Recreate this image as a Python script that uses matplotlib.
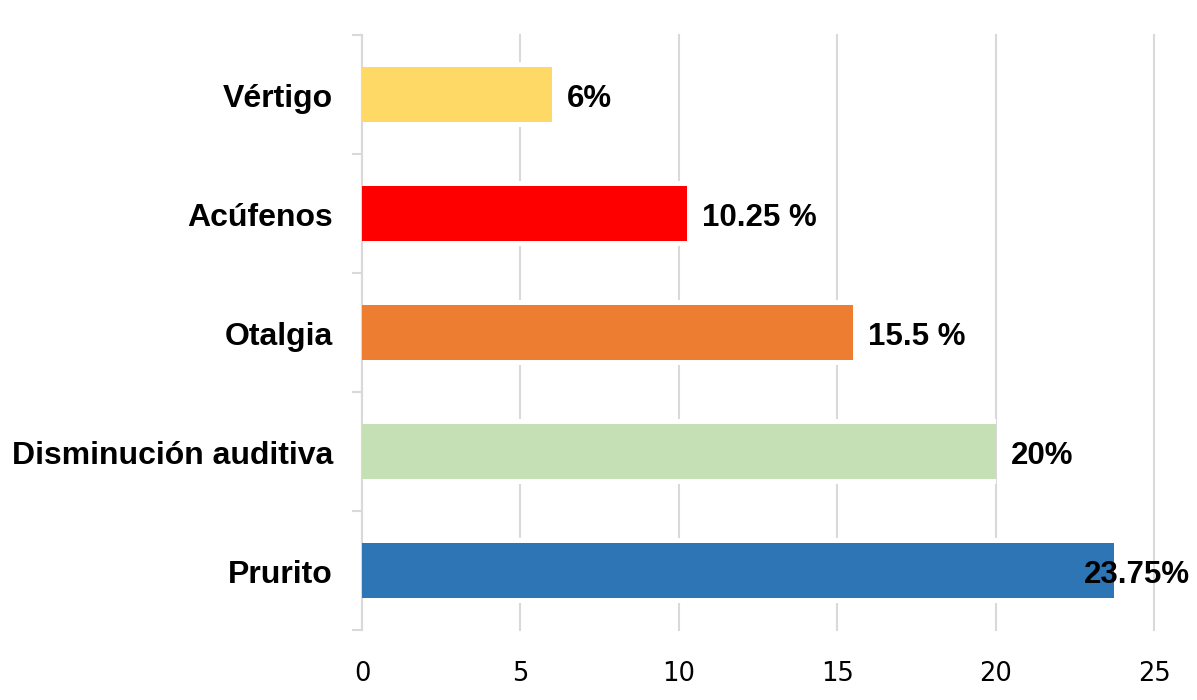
import matplotlib.pyplot as plt
import numpy as np

# Datos del gráfico
categorias = ["Prurito", "Disminución auditiva", "Otalgia", "Acúfenos", "Vértigo"]
valores = [23.75, 20, 15.5, 10.25, 6]
etiquetas = ["23.75%", "20%", "15.5 %", "10.25 %", "6%"]
colores = ["#2E75B6", "#C5E0B4", "#ED7D31", "#FF0000", "#FFD966"]
ticks_x = [0, 5, 10, 15, 20, 25]

fig = plt.figure(figsize=(11.97, 7.0), dpi=100)
ax = fig.add_axes([362 / 1197, 1 - 630 / 700, (1154 - 362) / 1197, 595 / 700])

y = np.arange(len(categorias))
alto = 0.46

# hueco blanco alrededor de las barras (corta las líneas de cuadrícula)
ax.barh(y, valores, height=alto + 0.09, color="white", zorder=2)
ax.barh(y, valores, height=alto, color=colores, zorder=3)

for yi, v, txt in zip(y, valores, etiquetas):
    dx = -22 if v > 23 else 11
    ax.annotate(txt, (v, yi), xytext=(dx, -3), textcoords="offset points",
                va="center", ha="left", fontsize=22.5, fontweight="bold",
                family="Liberation Sans", color="black", zorder=5)

# nombres de categorías
for yi, cat in zip(y, categorias):
    ax.annotate(cat, (0, yi), xytext=(-21, -3), textcoords="offset points",
                xycoords=("axes fraction", "data"),
                va="center", ha="right", fontsize=23, fontweight="bold",
                family="Liberation Sans", color="black")

ax.set_xlim(0, 25)
ax.set_ylim(-0.5, len(categorias) - 0.5)
ax.set_xticks(ticks_x)
ax.set_xticklabels([str(t) for t in ticks_x], fontsize=18.5, family="DejaVu Sans")
ax.tick_params(axis="x", length=0, pad=22)

# ticks del eje y en los límites de categoría
ax.set_yticks(np.arange(-0.5, len(categorias), 1.0))
ax.set_yticklabels([])
ax.tick_params(axis="y", which="major", length=7, width=1.5, color="#D9D9D9")

ax.grid(axis="x", color="#D9D9D9", linewidth=1.5, zorder=1)
for gl in ax.get_xgridlines():
    gl.set_clip_on(False)
ax.set_axisbelow(True)
for s in ["top", "right", "bottom"]:
    ax.spines[s].set_visible(False)
ax.spines["left"].set_color("#D9D9D9")
ax.spines["left"].set_linewidth(1.5)

fig.savefig("out.png", dpi=100)
